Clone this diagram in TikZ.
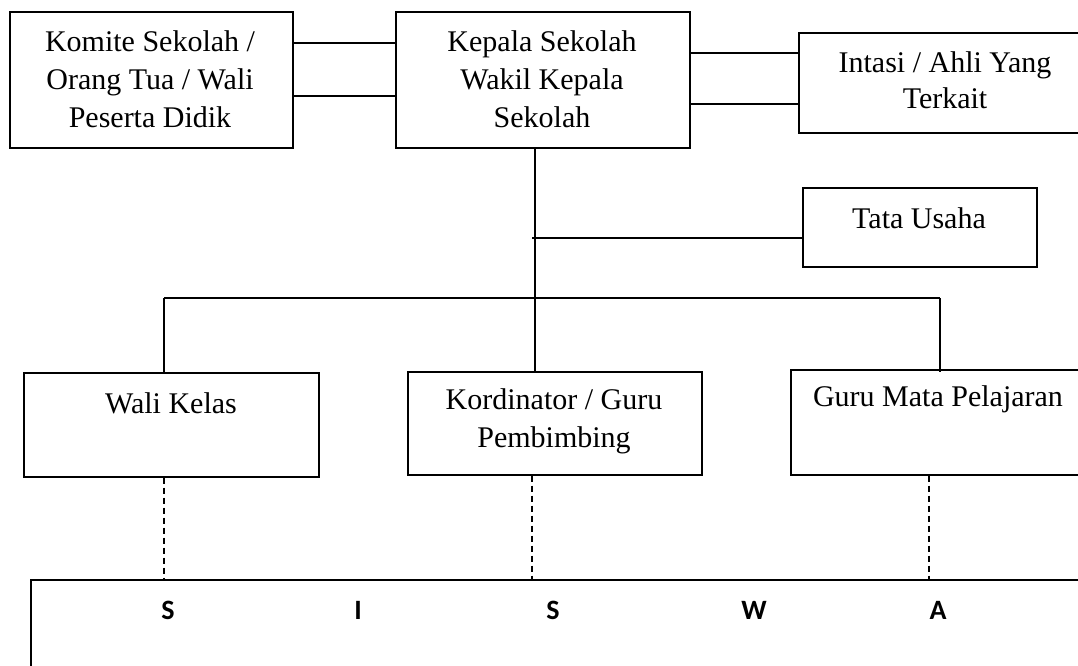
\documentclass[tikz,border=0pt]{standalone}
\usepackage{fontspec}
\setmainfont{Liberation Serif}
\newfontfamily\sisfont{Carlito}
\begin{document}
\begin{tikzpicture}[x=1pt,y=-1pt,
  box/.style={draw, line width=1.6pt, inner sep=0pt, anchor=north west},
  txt/.style={align=center, inner sep=0pt, font=\fontsize{30}{38}\selectfont},
  conn/.style={line width=1.6pt},
  dashconn/.style={line width=1.3pt, dash pattern=on 6pt off 4pt},
  lett/.style={inner sep=0pt, font=\sisfont\bfseries\fontsize{28}{32}\selectfont}]
\clip (0,0) rectangle (1078,666);
% boxes
\node[box, minimum width=283pt, minimum height=136pt] (komite) at (9,11) {};
\node[box, minimum width=294pt, minimum height=136pt] (kepala) at (395,11) {};
\node[box, minimum width=310pt, minimum height=100pt] (intasi) at (798,32) {};
\node[box, minimum width=234pt, minimum height=79pt] (tata) at (802,187) {};
\node[box, minimum width=295pt, minimum height=104pt] (wali) at (23,372) {};
\node[box, minimum width=294pt, minimum height=103pt] (kord) at (407,371) {};
\node[box, minimum width=320pt, minimum height=105pt] (guru) at (790,369) {};
\node[box, minimum width=1080pt, minimum height=120pt] (siswa) at (30,579) {};
% texts
\node[txt] (komiteT) at (150,79) {Komite Sekolah /\\Orang Tua / Wali\\Peserta Didik};
\node[txt] (kepalaT) at (542,79) {Kepala Sekolah\\Wakil Kepala\\Sekolah};
\node[txt, font=\fontsize{30}{36}\selectfont] (intasiT) at (945,80) {Intasi / Ahli Yang\\Terkait};
\node[txt] (tataT) at (919,218) {Tata Usaha};
\node[txt] (waliT) at (171,403) {Wali Kelas};
\node[txt] (kordT) at (554,421) {Kordinator / Guru\\Pembimbing};
\node[txt] (guruT) at (938,399) {Guru Mata Pelajaran};
\node[lett] (s1) at (168,610) {S};
\node[lett] (i1) at (358,610) {I};
\node[lett] (s2) at (553,610) {S};
\node[lett] (w1) at (754,610) {W};
\node[lett] (a1) at (938,610) {A};
% coordinates
\coordinate (tj) at (532,238);
\coordinate (hub) at (535,298);
\coordinate (hl) at (164,298);
\coordinate (hr) at (940,298);
% connectors
\draw[conn] (komite.east |- 0,43) -- (kepala.west |- 0,43);
\draw[conn] (komite.east |- 0,96) -- (kepala.west |- 0,96);
\draw[conn] (kepala.east |- 0,53) -- (intasi.west |- 0,53);
\draw[conn] (kepala.east |- 0,104) -- (intasi.west |- 0,104);
\draw[conn] (535,0 |- kepala.south) -- (hub);
\draw[conn] (tj) -- (tata.west |- tj);
\draw[conn] (hl) -- (hr);
\draw[conn] (hl) -- (hl |- wali.north);
\draw[conn] (hub) -- (hub |- kord.north);
\draw[conn] (hr) -- (940,372);
\draw[dashconn] (164,0 |- wali.south) -- (164,0 |- siswa.north);
\draw[dashconn] (532,0 |- kord.south) -- (532,0 |- siswa.north);
\draw[dashconn] (929,0 |- guru.south) -- (929,0 |- siswa.north);
\end{tikzpicture}
\end{document}
